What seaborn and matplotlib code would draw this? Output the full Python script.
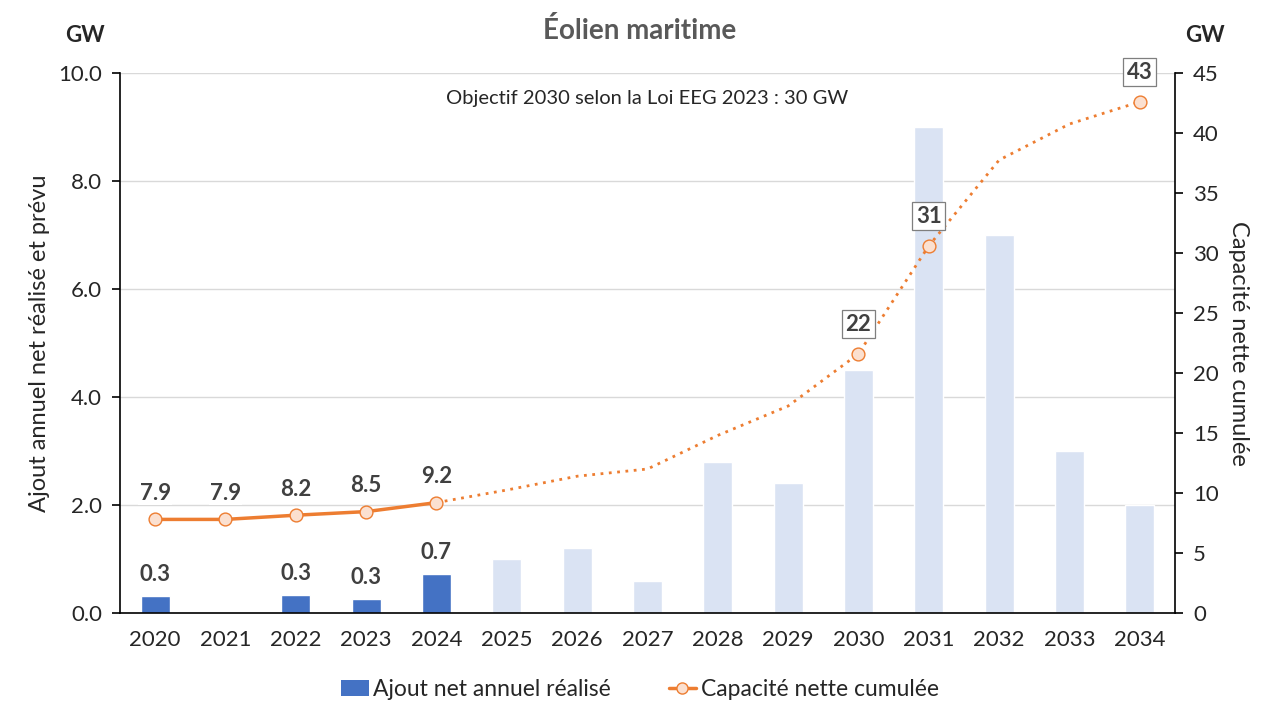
import numpy as np
import pandas as pd
import seaborn as sb
import matplotlib.pyplot as plt
from matplotlib.patches import Patch
from matplotlib.lines import Line2D

# data
years = ["2020", "2021", "2022", "2023", "2024", "2025", "2026", "2027",
         "2028", "2029", "2030", "2031", "2032", "2033", "2034"]
annual_added = [0.32, 0.0, 0.34, 0.26, 0.73, 1.0, 1.2, 0.6,
                2.8, 2.4, 4.5, 9.0, 7.0, 3.0, 2.0]
cumulated = [7.8, 7.8, 8.15, 8.45, 9.2, 10.25, 11.4, 12.0,
             14.8, 17.25, 21.6, 30.6, 37.75, 40.75, 42.6]
n_realised = 5
bar_labels = {0: "0.3", 2: "0.3", 3: "0.3", 4: "0.7"}
line_labels = {0: "7.9", 1: "7.9", 2: "8.2", 3: "8.5", 4: "9.2"}
boxed_labels = {10: "22", 11: "31", 14: "43"}

BLUE = "#4472C4"
LIGHT_BLUE = "#DAE3F3"
ORANGE = "#ED7D31"
PEACH = "#FBE0D0"
TEXT = "#404040"

sb.set_style("white")
plt.rcParams['font.family'] = ['Lato', 'DejaVu Sans']

fig = plt.figure(figsize=(12.8, 7.2), dpi=100)
ax = fig.add_axes([0.09375, 0.1486, 0.8242, 0.75])

df = pd.DataFrame({"year": years, "added": annual_added})
colors = [BLUE] * n_realised + [LIGHT_BLUE] * (len(years) - n_realised)
sb.barplot(data=df, x="year", y="added", hue="year", palette=colors,
           width=0.41, legend=False, ax=ax, saturation=1)

ax.set_ylim(0, 10)
ax.set_xlim(-0.5, len(years) - 0.5)
ax.set_yticks(np.arange(0, 10.1, 2))
ax.set_yticklabels([f"{v:.1f}" for v in np.arange(0, 10.1, 2)], fontsize=16)
ax.grid(axis="y", color="#D9D9D9", linewidth=1)
ax.set_axisbelow(True)
ax.set_xlabel("")
ax.set_ylabel("Ajout annuel net réalisé et prévu", fontsize=17, labelpad=6)

# category ticks sit between the bars, labels in the middle
ax.set_xticks(np.arange(len(years)))
ax.set_xticklabels(years, fontsize=16)
ax.tick_params(axis="x", length=0, pad=12)
ax.set_xticks(np.arange(-0.5, len(years)), minor=True)
ax.tick_params(axis="x", which="minor", length=10, width=1.2, color="black", direction="out")
ax.tick_params(axis="y", length=6, width=1.2, color="black", direction="out", pad=7)

for side in ["top", "right"]:
    ax.spines[side].set_visible(False)
for side in ["left", "bottom"]:
    ax.spines[side].set_color("black")
    ax.spines[side].set_linewidth(1.2)

for i, lab in bar_labels.items():
    ax.text(i, annual_added[i] + 0.2, lab, ha="center", va="bottom",
            fontsize=16, fontweight="bold", color=TEXT)

# cumulated capacity on the right axis
ax2 = ax.twinx()
xs = np.arange(len(years))
sb.lineplot(x=xs[:n_realised], y=cumulated[:n_realised], color=ORANGE,
            linewidth=2.5, ax=ax2)
sb.lineplot(x=xs[n_realised - 1:], y=cumulated[n_realised - 1:], color=ORANGE,
            linewidth=2, linestyle=(0, (1, 2)), ax=ax2)
marked = list(range(n_realised)) + list(boxed_labels.keys())
ax2.scatter(xs[marked], np.array(cumulated)[marked], s=85, facecolor=PEACH,
            edgecolor=ORANGE, linewidth=1, zorder=5)

ax2.set_ylim(0, 45)
ax2.set_yticks(np.arange(0, 46, 5))
ax2.set_yticklabels([str(v) for v in range(0, 46, 5)], fontsize=16)
ax2.tick_params(axis="y", length=6, width=1.2, color="black", direction="out", pad=7)
ax2.set_ylabel("Capacité nette cumulée", fontsize=17, rotation=-90, labelpad=22)
for side in ["top", "left", "bottom"]:
    ax2.spines[side].set_visible(False)
ax2.spines["right"].set_color("black")
ax2.spines["right"].set_linewidth(1.2)

for i, lab in line_labels.items():
    ax2.text(i, cumulated[i] + 1.3, lab, ha="center", va="bottom",
             fontsize=16, fontweight="bold", color=TEXT,
             bbox=dict(facecolor="white", edgecolor="none", pad=1))
for i, lab in boxed_labels.items():
    ax2.text(i, cumulated[i] + 1.6, lab, ha="center", va="bottom",
             fontsize=16, fontweight="bold", color=TEXT,
             bbox=dict(facecolor="white", edgecolor="#7F7F7F", linewidth=0.9, pad=2.5))

# titles and notes
fig.text(0.5, 0.958, "Éolien maritime", ha="center", va="center",
         fontsize=20, fontweight="bold", color="#595959")
fig.text(0.066, 0.951, "GW", ha="center", va="center", fontsize=16, fontweight="bold")
fig.text(0.941, 0.951, "GW", ha="center", va="center", fontsize=16, fontweight="bold")
ax.text(0.5, 0.952, "Objectif 2030 selon la Loi EEG 2023 : 30 GW", transform=ax.transAxes,
        ha="center", va="center", fontsize=14.5)

handles = [Patch(facecolor=BLUE, edgecolor="none"),
           Line2D([0], [0], color=ORANGE, linewidth=2.5, marker="o",
                  markerfacecolor=PEACH, markeredgecolor=ORANGE, markersize=8)]
fig.legend(handles, ["Ajout net annuel réalisé", "Capacité nette cumulée"],
           loc="center", bbox_to_anchor=(0.5, 0.042), ncol=2, frameon=False,
           fontsize=16.5, handlelength=1.2, handletextpad=0.2, columnspacing=2.5)

plt.savefig("out.png", dpi=100)
plt.close()
